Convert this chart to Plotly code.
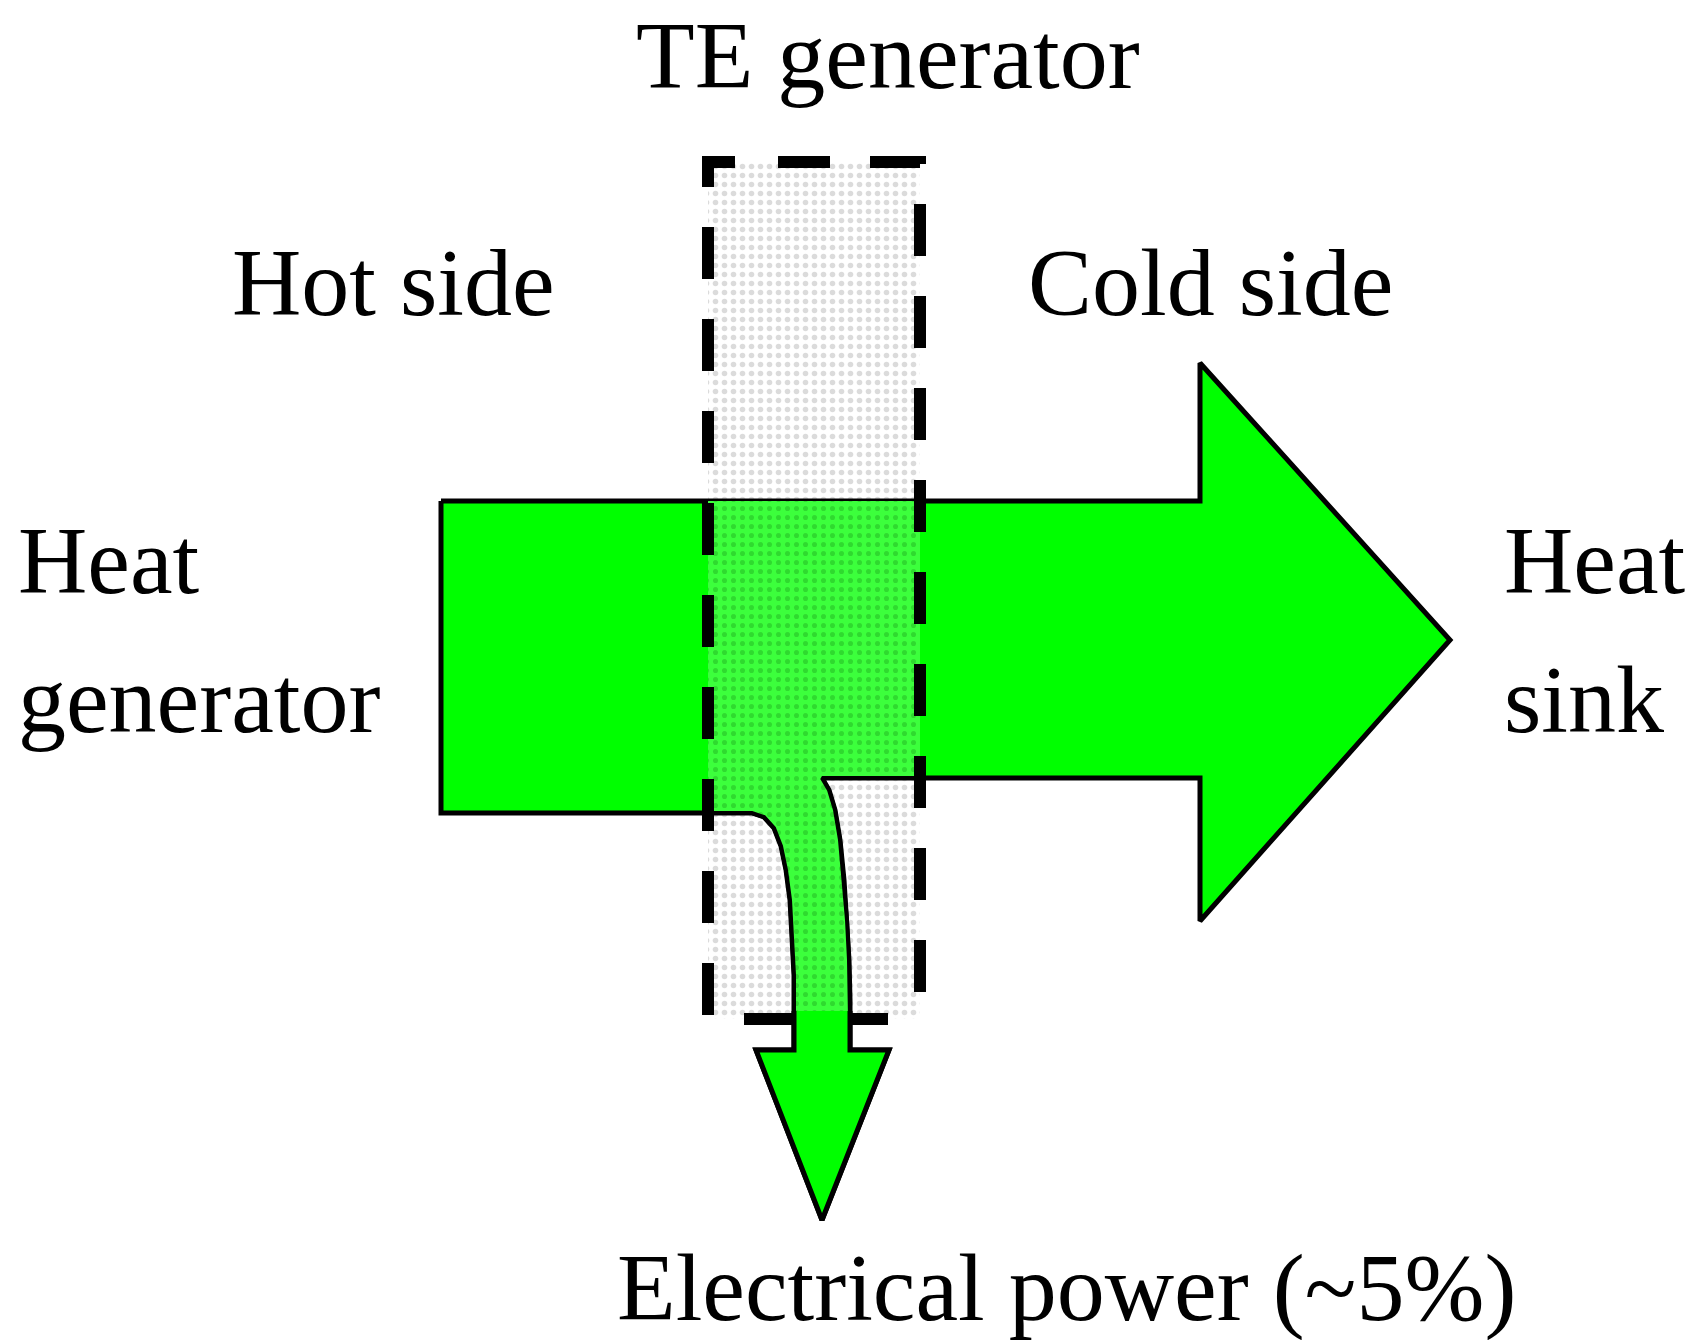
import numpy as np
import plotly.graph_objects as go

W, H = 1700, 1340

# ---- geometry (pixel coordinates) ----
# heat-flow arrow: straight shaft + big arrow head to the right
shaft_x = [441, 1200, 1200, 1450, 1200, 1200]
shaft_y = [501, 501, 363, 640, 921, 778]
hot_bottom_y = 813          # bottom of the shaft on the hot side
shaft_left_x = 441

# branch that turns down into electrical power
left_curve_x = [752, 764, 774, 781, 786, 790, 792, 794, 794]
left_curve_y = [813, 817, 828, 846, 870, 900, 935, 975, 1050]
right_curve_x = [822, 829, 835, 840, 844, 847, 849, 850, 850]
right_curve_y = [778, 790, 810, 840, 880, 920, 960, 1000, 1050]

# small down arrow head
head_x = [889, 822, 756]
head_y = [1050, 1220, 1050]

# TE generator box
box_x = [708, 920]
box_y = [162, 1019]

# labels: text, x, y, anchor
labels = [
    ("TE generator", 888, 55, "center"),
    ("Hot side", 393, 282, "center"),
    ("Cold side", 1210, 282, "center"),
    ("Heat", 16, 560, "left"),
    ("generator", 16, 699, "left"),
    ("Heat", 1502, 560, "left"),
    ("sink", 1502, 699, "left"),
    ("Electrical power (~5%)", 1066, 1287, "center"),
]

GREEN = "#00FF00"
FONT = "Liberation Serif, Times New Roman, serif"
OUTLINE = 5
DASH = dict(color="black", width=12, dash="52px,40px")

fig = go.Figure()

# box stippled background
bx = [box_x[0], box_x[1], box_x[1], box_x[0], box_x[0]]
by = [box_y[0], box_y[0], box_y[1], box_y[1], box_y[0]]
fig.add_trace(go.Scatter(
    x=bx, y=by, mode="lines", fill="toself", line=dict(width=0, color="rgba(0,0,0,0)"),
    fillcolor="white",
    fillpattern=dict(shape=".", fgcolor="#b8b8b8", bgcolor="white", size=9, solidity=0.3),
    hoverinfo="skip"))

# main green arrow
mx = shaft_x + right_curve_x + head_x + left_curve_x[::-1] + [shaft_left_x, shaft_left_x]
my = shaft_y + right_curve_y + head_y + left_curve_y[::-1] + [hot_bottom_y, shaft_y[0]]
fig.add_trace(go.Scatter(
    x=mx, y=my, mode="lines", fill="toself", fillcolor=GREEN,
    line=dict(color="black", width=OUTLINE), hoverinfo="skip"))

# stippled green inside the box
lcx = np.array(left_curve_x); lcy = np.array(left_curve_y)
rcx = np.array(right_curve_x); rcy = np.array(right_curve_y)
lm = lcy < box_y[1]; rm = rcy < box_y[1]
l_end = float(np.interp(box_y[1], lcy, lcx)); r_end = float(np.interp(box_y[1], rcy, rcx))
ox = ([box_x[0], box_x[1], box_x[1]] + list(rcx[rm]) + [r_end, l_end]
      + list(lcx[lm][::-1]) + [box_x[0], box_x[0]])
oy = ([shaft_y[0], shaft_y[0], shaft_y[5]] + list(rcy[rm]) + [box_y[1], box_y[1]]
      + list(lcy[lm][::-1]) + [hot_bottom_y, shaft_y[0]])
fig.add_trace(go.Scatter(
    x=ox, y=oy, mode="lines", fill="toself", fillcolor="#3cff3c",
    line=dict(width=0, color="rgba(0,0,0,0)"),
    fillpattern=dict(shape=".", fgcolor="#22b522", bgcolor="#3cff3c", size=9, solidity=0.25),
    hoverinfo="skip"))

# outlines inside the box
fig.add_trace(go.Scatter(
    x=[box_x[0]] + list(lcx[lm]) + [l_end], y=[hot_bottom_y] + list(lcy[lm]) + [box_y[1]],
    mode="lines", line=dict(color="black", width=4), hoverinfo="skip"))
fig.add_trace(go.Scatter(
    x=[box_x[1]] + list(rcx[rm]) + [r_end], y=[shaft_y[5]] + list(rcy[rm]) + [box_y[1]],
    mode="lines", line=dict(color="black", width=4), hoverinfo="skip"))

# dashed box outline, drawn as two paths so the dash phase matches on each side
s1 = box_x[0] + 27
fig.add_trace(go.Scatter(
    x=[s1, box_x[0], box_x[0], box_x[1]], y=[box_y[0], box_y[0], box_y[1], box_y[1]],
    mode="lines", line=DASH, hoverinfo="skip"))
s2 = box_x[0] + 70
fig.add_trace(go.Scatter(
    x=[s2, box_x[1], box_x[1]], y=[box_y[0], box_y[0], box_y[1]],
    mode="lines", line=DASH, hoverinfo="skip"))

# down arrow drawn on top of the box bottom edge
top = box_y[1] - 8
ax = [l_end, left_curve_x[-1]] + head_x[::-1] + [right_curve_x[-1], r_end]
ay = [top, left_curve_y[-1]] + head_y[::-1] + [right_curve_y[-1], top]
fig.add_trace(go.Scatter(
    x=ax, y=ay, mode="lines", fill="toself", fillcolor=GREEN,
    line=dict(width=0, color="rgba(0,0,0,0)"), hoverinfo="skip"))
fig.add_trace(go.Scatter(
    x=ax, y=ay, mode="lines", line=dict(color="black", width=OUTLINE), hoverinfo="skip"))

for text, x, y, anc in labels:
    fig.add_annotation(x=x, y=y, text=text, showarrow=False, xanchor=anc, yanchor="middle",
                       font=dict(family=FONT, size=96, color="black"))

fig.update_layout(
    width=W, height=H, margin=dict(l=0, r=0, t=0, b=0),
    paper_bgcolor="white", plot_bgcolor="white", showlegend=False,
    xaxis=dict(range=[0, W], visible=False, fixedrange=True),
    yaxis=dict(range=[H, 0], visible=False, fixedrange=True),
)

fig.write_html("out.html", config={"displayModeBar": False},
               post_script="document.body.style.margin='0px';document.body.style.overflow='hidden';")
